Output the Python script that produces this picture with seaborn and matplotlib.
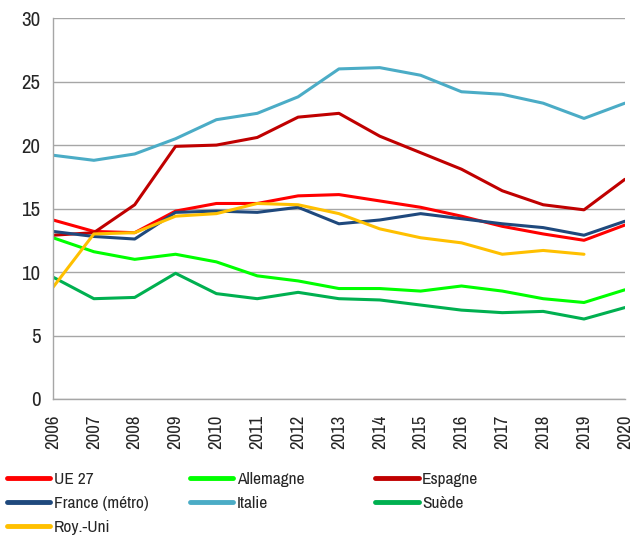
import pandas as pd
import numpy as np
import matplotlib
matplotlib.use("Agg")
import matplotlib.pyplot as plt
import seaborn as sns

# ------------------------------------------------------------
# Data
# ------------------------------------------------------------
years = list(range(2006, 2021))

ue27 = [14.1, 13.2, 13.1, 14.8, 15.4, 15.4, 16.0, 16.1, 15.6, 15.1, 14.4, 13.6, 13.0, 12.5, 13.7]
allemagne = [12.7, 11.6, 11.0, 11.4, 10.8, 9.7, 9.3, 8.7, 8.7, 8.5, 8.9, 8.5, 7.9, 7.6, 8.6]
espagne = [12.9, 13.1, 15.3, 19.9, 20.0, 20.6, 22.2, 22.5, 20.7, 19.4, 18.1, 16.4, 15.3, 14.9, 17.3]
france = [13.2, 12.8, 12.6, 14.7, 14.8, 14.7, 15.1, 13.8, 14.1, 14.6, 14.2, 13.8, 13.5, 12.9, 14.0]
italie = [19.2, 18.8, 19.3, 20.5, 22.0, 22.5, 23.8, 26.0, 26.1, 25.5, 24.2, 24.0, 23.3, 22.1, 23.3]
suede = [9.6, 7.9, 8.0, 9.9, 8.3, 7.9, 8.4, 7.9, 7.8, 7.4, 7.0, 6.8, 6.9, 6.3, 7.2]
roy_uni = [8.8, 13.0, 13.1, 14.4, 14.6, 15.4, 15.3, 14.6, 13.4, 12.7, 12.3, 11.4, 11.7, 11.4, np.nan]

series = {
    "UE 27": ue27,
    "Allemagne": allemagne,
    "Espagne": espagne,
    "France (métro)": france,
    "Italie": italie,
    "Suède": suede,
    "Roy.-Uni": roy_uni,
}

colors = {
    "UE 27": "#FF0000",
    "Allemagne": "#00FF00",
    "Espagne": "#C00000",
    "France (métro)": "#1F497D",
    "Italie": "#4BACC6",
    "Suède": "#00B050",
    "Roy.-Uni": "#FFC000",
}

# long-form table for seaborn
rows = []
for name, values in series.items():
    for y, v in zip(years, values):
        rows.append({"annee": y, "valeur": v, "pays": name})
df = pd.DataFrame(rows)

# ------------------------------------------------------------
# Style (narrow font, close to Arial Narrow)
# ------------------------------------------------------------
sns.set_style("white")
plt.rcParams["font.family"] = ["Archivo Narrow", "PT Sans Narrow", "DejaVu Sans"]

fig = plt.figure(figsize=(6.35, 5.41), dpi=100)
ax = fig.add_axes([0.0835, 0.2625, 0.9005, 0.704])

sns.lineplot(
    data=df,
    x="annee",
    y="valeur",
    hue="pays",
    palette=colors,
    linewidth=2.2,
    ax=ax,
    legend=False,
)

ax.set_xlim(2006, 2020)
ax.set_ylim(0, 30)
ax.set_yticks(range(0, 31, 5))
ax.set_xticks(years)
ax.set_xticklabels([str(y) for y in years], rotation=90)
ax.set_xlabel("")
ax.set_ylabel("")

ax.grid(axis="y", color="#A6A6A6", linewidth=1)
ax.set_axisbelow(True)
for side in ["top", "right"]:
    ax.spines[side].set_visible(False)
for side in ["left", "bottom"]:
    ax.spines[side].set_color("#A6A6A6")
    ax.spines[side].set_linewidth(1)

ax.tick_params(axis="both", which="major", length=5, color="#A6A6A6",
               direction="out")
ax.tick_params(axis="y", labelsize=15, pad=4)
ax.tick_params(axis="x", labelsize=13.5, pad=6)

# ------------------------------------------------------------
# Legend: three columns placed like the reference
# ------------------------------------------------------------
columns = [
    (0.011, ["UE 27", "France (métro)", "Roy.-Uni"]),
    (0.299, ["Allemagne", "Italie"]),
    (0.591, ["Espagne", "Suède"]),
]
for x_pos, names in columns:
    handles = [plt.Line2D([], [], color=colors[n], linewidth=3.5,
                          solid_capstyle="round") for n in names]
    fig.legend(
        handles,
        names,
        loc="upper left",
        bbox_to_anchor=(x_pos, 0.127),
        frameon=False,
        fontsize=12.5,
        handlelength=2.5,
        handletextpad=0.2,
        labelspacing=0.5,
        borderpad=0,
        borderaxespad=0,
    )

plt.savefig("out.png", dpi=100)
plt.close()
